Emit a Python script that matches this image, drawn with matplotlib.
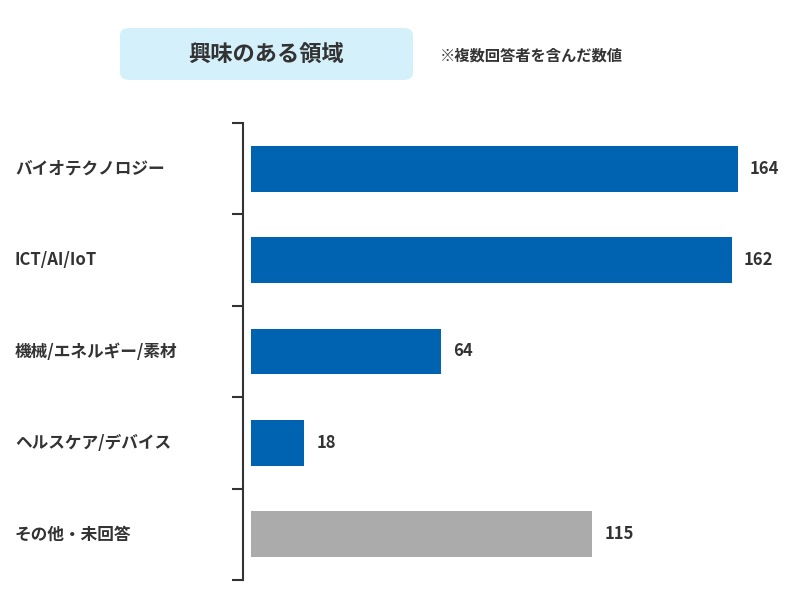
import matplotlib.pyplot as plt
from matplotlib.patches import FancyBboxPatch
from matplotlib.transforms import offset_copy

plt.rcParams['font.family'] = 'Noto Sans CJK JP'

categories = ['バイオテクノロジー', 'ICT/AI/IoT', '機械/エネルギー/素材',
              'ヘルスケア/デバイス', 'その他・未回答']
values = [164, 162, 64, 18, 115]
colors = ['#0063B1', '#0063B1', '#0063B1', '#0063B1', '#ABABAB']

W, H = 802, 612
fig = plt.figure(figsize=(W / 100, H / 100), dpi=100)
ax = fig.add_axes([251 / W, 1 - 580 / H, (785 - 251) / W, (580 - 123) / H])

ypos = list(range(len(categories)))
ax.barh(ypos, values, height=0.5, color=colors)
ax.set_ylim(len(categories) - 0.5, -0.5)
ax.set_xlim(0, 180)

for spine in ['top', 'right', 'bottom']:
    ax.spines[spine].set_visible(False)
ax.spines['left'].set_position(('outward', 6))
ax.spines['left'].set_color('#333333')
ax.spines['left'].set_linewidth(1.5)
ax.set_xticks([])
ax.set_yticks([i - 0.5 for i in range(len(categories) + 1)])
ax.set_yticklabels([])
ax.tick_params(axis='y', length=8, width=1.5, color='#333333')

for y, v in zip(ypos, values):
    t = offset_copy(ax.transData, fig=fig, x=12, y=0, units='dots')
    ax.text(v, y, str(v), transform=t, va='center', ha='left',
            fontsize=12, fontweight='bold', color='#333333')

for y, c in zip(ypos, categories):
    yfig = ax.transData.transform((0, y))[1] / fig.dpi / fig.get_figheight()
    fig.text(15 / W, yfig, c, ha='left', va='center', fontsize=12,
             fontweight='bold', color='#333333')

box = FancyBboxPatch((120 / W, 1 - 80 / H), (413 - 120) / W, 52 / H,
                     boxstyle='round,pad=0,rounding_size=0.012',
                     transform=fig.transFigure, facecolor='#D4F0FA',
                     edgecolor='none')
fig.patches.append(box)
fig.text(266 / W, 1 - 54 / H, '興味のある領域', ha='center', va='center',
         fontsize=16, fontweight='bold', color='#333333')
fig.text(440 / W, 1 - 56 / H, '※複数回答者を含んだ数値', ha='left',
         va='center', fontsize=11, fontweight='bold', color='#333333')

fig.savefig('out.png', dpi=100)
